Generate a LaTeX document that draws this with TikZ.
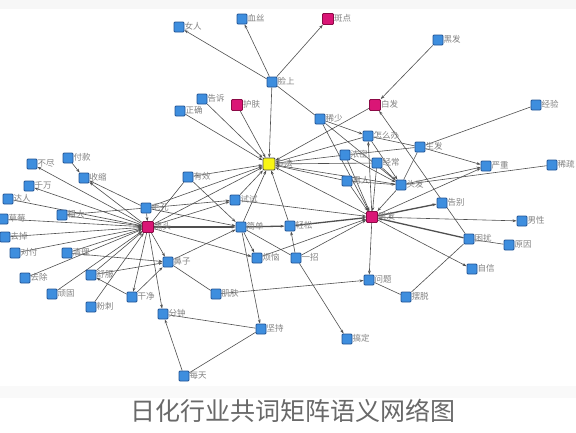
\documentclass[tikz,border=0pt]{standalone}
\usepackage{fontspec}
\newfontfamily\cjk{Noto Sans CJK SC}
\usetikzlibrary{arrows.meta}
\definecolor{termblue}{RGB}{62,142,222}
\definecolor{termedge}{RGB}{35,85,150}
\definecolor{hubpink}{RGB}{218,22,118}
\definecolor{hubedge}{RGB}{140,10,70}
\definecolor{hubyellow}{RGB}{248,246,20}
\definecolor{linkgray}{RGB}{80,80,80}
\definecolor{labelgray}{RGB}{130,130,130}
\definecolor{titlegray}{RGB}{105,105,105}
\pgfdeclarelayer{back}
\pgfdeclarelayer{links}
\pgfsetlayers{back,links,main}
\begin{document}
\begin{tikzpicture}[x=1pt, y=-1pt,
	term/.style={rectangle, draw=termedge, fill=termblue, line width=0.8pt, minimum size=10pt, inner sep=0pt, rounded corners=1pt, label distance=2.5pt},
	hub/.style={term, draw=hubedge, fill=hubpink, minimum size=11pt},
	lbl/.style={text=labelgray, font=\cjk\fontsize{8.5}{9}\selectfont, inner sep=0pt, yshift=1pt},
	link/.style={draw=linkgray, line width=0.6pt},
	heavy/.style={link, line width=1.3pt},
	>={Stealth[length=4pt,width=2.8pt]}]

	\begin{pgfonlayer}{back}
		\fill [white] (0,0) rectangle (576,432);
		\fill [gray!6] (0,0) rectangle (576,9);
		\fill [gray!5] (0,386) rectangle (576,398);
	\end{pgfonlayer}
	\useasboundingbox (0,0) rectangle (576,432);

	% terms
	\foreach \n/\x/\y/\t in {nvren/179/27/女人, xuesi/242/19/血丝, heifa/438/40/黑发,
		lianshang/272/82/脸上, gaosu/202/99/告诉, zhengque/180/111/正确,
		jingyan/536/105/经验, xishao/320/119/稀少, zenmeban/368/136/怎么办,
		shengfa/420/147/生发, nongmi/345/155/浓密, jingchang/377/163/经常,
		yanzhong/486/166/严重, xishu/552/165/稀疏, nanren/347/181/男人,
		toufa/401/185/头发, youxiao/188/177/有效, maokong/146/208/毛孔,
		shishi/235/200/试试, jiandan/241/227/简单, qingsong/290/226/轻松,
		gaobie/442/203/告别, nanxing/522/221/男性, kunrao/469/239/困扰,
		yuanyin/509/245/原因, zixin/472/269/自信, wenti/369/280/问题,
		baituo/406/297/摆脱, fannao/257/258/烦恼, yizhao/296/258/一招,
		bizi/168/262/鼻子, jifu/216/294/肌肤, jianchi/261/329/坚持,
		gaoding/347/339/搞定, fenzhong/163/314/分钟, meitian/184/376/每天,
		ganjing/132/297/干净, shufu/91/275/舒服, fenci/91/307/粉刺,
		wangu/52/294/顽固, quchu/25/278/去除, qingli/67/253/清理,
		duifu/15/253/对付, qudiao/5/237/去掉, caomei/3/219/草莓,
		daren/8/199/达人, cuda/62/215/粗大, qianwan/29/186/千万,
		bujin/32/164/不尽, fukuan/68/158/付款, shousuo/84/178/收缩}
	{
		\node [term, label={[lbl]right:\t}] (\n) at (\x,\y) {};
	}

	% hubs
	\node [hub, label={[lbl]right:斑点}] (bandian) at (328,19) {};
	\node [hub, label={[lbl]right:护肤}] (hufu) at (237,105) {};
	\node [hub, label={[lbl]right:白发}] (baifa) at (375,105) {};
	\node [hub, label={[lbl]right:黑头}] (heitou) at (148,227) {};
	\node [hub, label={[lbl]right:男发}] (nanfa) at (372,217) {};
	\node [hub, draw=black!70, fill=hubyellow, minimum size=12pt, label={[lbl]right:方法}] (fangfa) at (269,164) {};

	\begin{pgfonlayer}{links}
		\foreach \a/\b in {lianshang/nvren, lianshang/xuesi, lianshang/bandian, heifa/baifa, kunrao/baifa,
			gaosu/fangfa, zhengque/fangfa, hufu/fangfa, lianshang/fangfa, youxiao/fangfa, shishi/fangfa,
			jiandan/fangfa, qingsong/fangfa, heitou/fangfa, maokong/fangfa, nongmi/fangfa, jingchang/fangfa,
			nanren/fangfa, zenmeban/fangfa, toufa/fangfa, nanfa/fangfa, baifa/fangfa,
			xishao/zenmeban, nanfa/zenmeban, nongmi/toufa, nanren/toufa, jingchang/toufa, zenmeban/toufa,
			toufa/yanzhong, nanfa/yanzhong, shengfa/yanzhong,
			nanfa/nanxing, nanfa/zixin, nanfa/wenti, jifu/wenti,
			xishao/nanfa, nongmi/nanfa, jingchang/nanfa, nanren/nanfa, toufa/nanfa, shishi/nanfa,
			yizhao/nanfa, fannao/nanfa,
			yizhao/qingsong, yizhao/gaoding, jiandan/jianchi, meitian/fenzhong,
			heitou/fenzhong, heitou/bizi, ganjing/bizi, ganjing/shufu, qingli/bizi, shufu/bizi,
			maokong/shishi, heitou/shishi, maokong/jiandan, youxiao/jiandan, bizi/jiandan,
			heitou/fannao, jiandan/fannao, heitou/shousuo, maokong/shousuo, fukuan/shousuo,
			heitou/bujin, heitou/qianwan, heitou/ganjing,
			daren/heitou, cuda/heitou, caomei/heitou, qudiao/heitou, duifu/heitou, qingli/heitou,
			quchu/heitou, wangu/heitou, fenci/heitou, shufu/heitou, maokong/heitou}
		{
			\draw [link, ->] (\a) -- (\b);
		}
		\foreach \a/\b in {lianshang/xishao, shengfa/jingyan, shengfa/toufa, zenmeban/shengfa,
			nongmi/shengfa, toufa/xishu, xishao/toufa, kunrao/yuanyin, kunrao/baituo, wenti/baituo,
			bizi/jifu, fenzhong/jianchi, jianchi/meitian, cuda/maokong, youxiao/heitou, yizhao/jiandan}
		{
			\draw [link] (\a) -- (\b);
		}
		\foreach \a/\b in {jiandan/qingsong, qingsong/nanfa, kunrao/nanfa, nanfa/gaobie, heitou/jiandan}
		{
			\draw [heavy, ->] (\a) -- (\b);
		}
	\end{pgfonlayer}

	\node [font=\cjk\fontsize{25}{27}\selectfont, text=titlegray] (title) at (293,411) {日化行业共词矩阵语义网络图};

\end{tikzpicture}
\end{document}
